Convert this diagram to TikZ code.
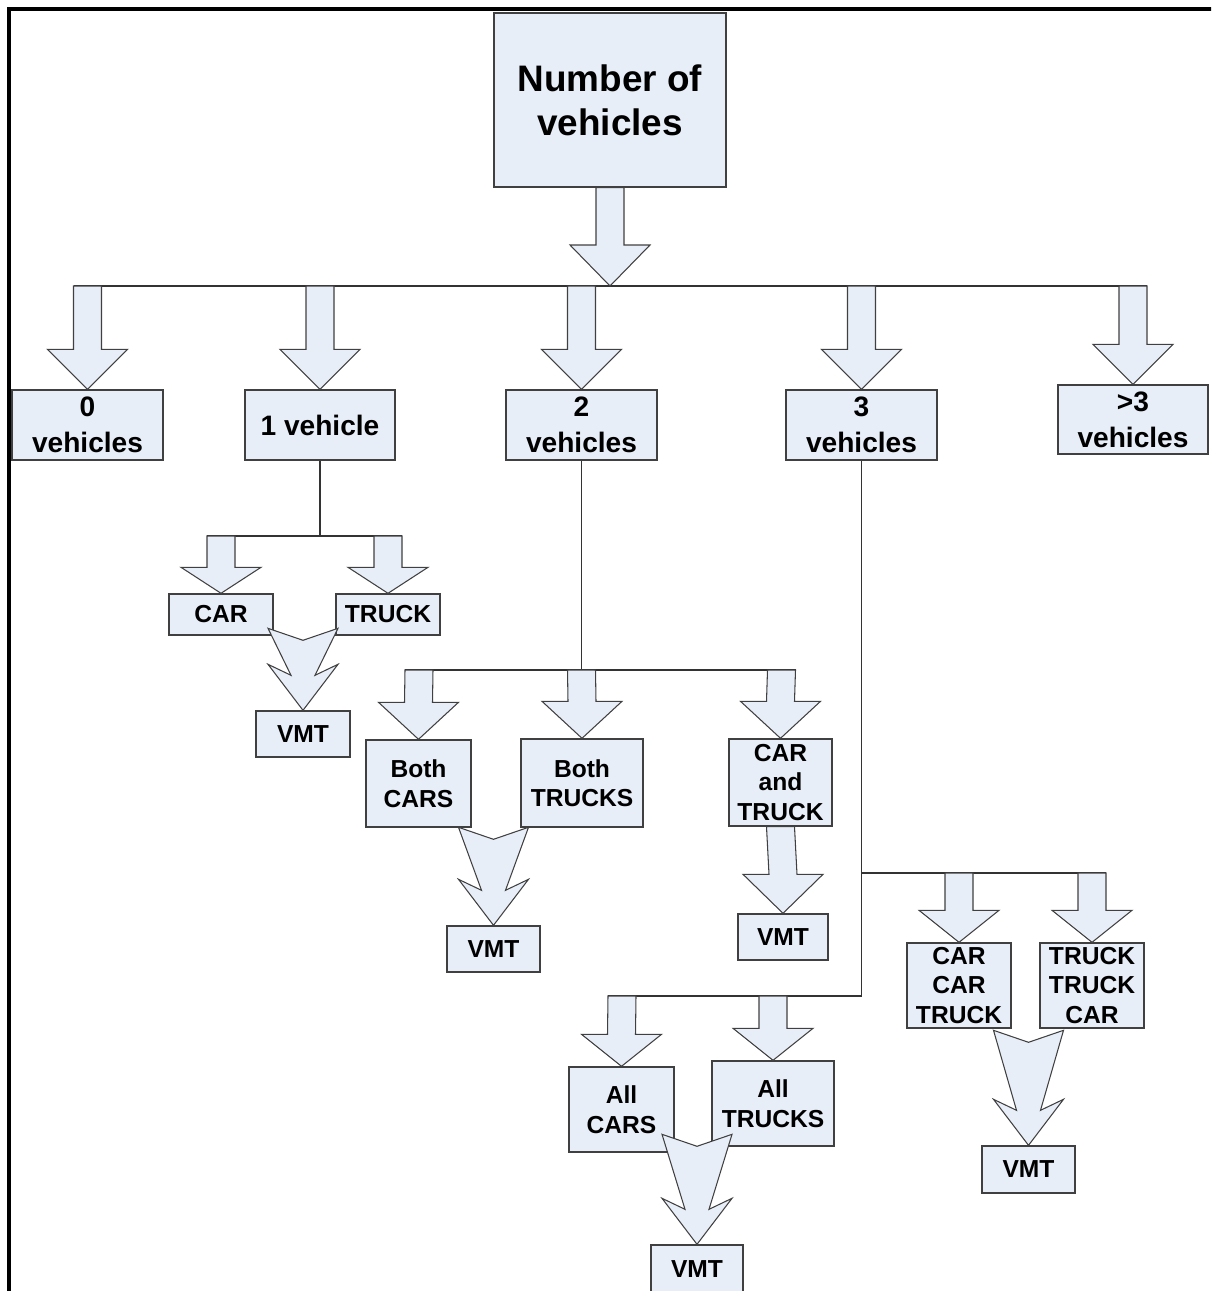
\documentclass[tikz,border=0pt]{standalone}
\usepackage{fontspec}
\setmainfont{Liberation Sans}
\usetikzlibrary{calc}
\definecolor{boxfill}{RGB}{232,238,248}
\definecolor{boxline}{RGB}{64,64,64}
% straight block arrow: top point, tip, head length
\newcommand{\blockarr}[3]{%
  \draw[blockarrow] ($(#1)+(-14,0)$) -- ($(#1)+(14,0)$) -- ($(#2)+(14,-#3)$)
    -- ($(#2)+(40,-#3)$) -- (#2) -- ($(#2)+(-40,-#3)$) -- ($(#2)+(-14,-#3)$) -- cycle;}
% merging block arrow: tip, height
\newcommand{\mergearr}[2]{%
  \draw[blockarrow] ($(#1)+(-35,-#2)$) -- ($(#1)+(0,{-#2+12})$) -- ($(#1)+(35,-#2)$)
    -- ($(#1)+(12,-35)$) -- ($(#1)+(35,-46)$) -- (#1) -- ($(#1)+(-35,-46)$)
    -- ($(#1)+(-12,-35)$) -- cycle;}

\begin{document}
\begin{tikzpicture}
    [x=0.02cm, y=-0.02cm,
     box/.style={draw=boxline, fill=boxfill, line width=0.8pt, align=center, inner sep=0pt},
     big/.style={box, font=\fontsize{21}{25}\selectfont\bfseries},
     mid/.style={box, font=\fontsize{16}{20.5}\selectfont\bfseries},
     small/.style={box, font=\fontsize{14}{16.8}\selectfont\bfseries},
     blockarrow/.style={draw=boxline, fill=boxfill, line width=0.6pt, line join=miter},
     wire/.style={draw=black!80, line width=0.9pt}]
    \useasboundingbox (0,0) rectangle (1211,1291);
    \clip (0,0) rectangle (1211,1291);

    % frame
    \draw[line width=2.2pt] (9,1300) -- (9,9) -- (1220,9);

    \node at (610,100) [big, minimum width=4.64cm, minimum height=3.48cm] (top) {Number of\\vehicles};

    \node at (87.5,425) [mid, minimum width=3.02cm, minimum height=1.4cm] (v0) {0\\vehicles};
    \node at (320,425) [mid, minimum width=3.0cm, minimum height=1.4cm] (v1) {1 vehicle};
    \node at (581.5,425) [mid, minimum width=3.02cm, minimum height=1.4cm] (v2) {2\\vehicles};
    \node at (861.5,425) [mid, minimum width=3.02cm, minimum height=1.4cm] (v3) {3\\vehicles};
    \node at (1133,419.5) [mid, minimum width=3.0cm, minimum height=1.38cm] (vmore) {>3\\vehicles};

    \node at (221,614.5) [small, minimum width=2.08cm, minimum height=0.82cm] (car) {CAR};
    \node at (388,614.5) [small, minimum width=2.08cm, minimum height=0.82cm] (truck) {TRUCK};
    \node at (303,734) [small, minimum width=1.88cm, minimum height=0.92cm] (vmta) {VMT};

    \node at (418.5,783.5) [small, minimum width=2.1cm, minimum height=1.74cm] (bothcars) {Both\\CARS};
    \node at (582,783) [small, minimum width=2.44cm, minimum height=1.76cm] (bothtrucks) {Both\\TRUCKS};
    \node at (780.5,782.5) [small, minimum width=2.06cm, minimum height=1.74cm] (carandtruck) {CAR\\and\\TRUCK};
    \node at (493.5,949) [small, minimum width=1.86cm, minimum height=0.92cm] (vmtb) {VMT};
    \node at (783,937) [small, minimum width=1.8cm, minimum height=0.92cm] (vmtc) {VMT};

    \node at (959,985.5) [small, minimum width=2.08cm, minimum height=1.7cm] (cct) {CAR\\CAR\\TRUCK};
    \node at (1092,985.5) [small, minimum width=2.08cm, minimum height=1.7cm] (ttc) {TRUCK\\TRUCK\\CAR};
    \node at (1028.5,1169.5) [small, minimum width=1.86cm, minimum height=0.94cm] (vmtd) {VMT};

    \node at (621.5,1109.5) [small, minimum width=2.1cm, minimum height=1.7cm] (allcars) {All\\CARS};
    \node at (773,1103.5) [small, minimum width=2.44cm, minimum height=1.7cm] (alltrucks) {All\\TRUCKS};
    \node at (697,1269) [small, minimum width=1.84cm, minimum height=0.96cm] (vmte) {VMT};

    % branch points
    \coordinate (hub) at (610,286);
    \coordinate (t0) at (87.5,286);
    \coordinate (t1) at (320,286);
    \coordinate (t2) at (581.5,286);
    \coordinate (t3) at (861.5,286);
    \coordinate (t4) at (1133,286);
    \coordinate (s1) at (221,536);
    \coordinate (s2) at (388,536);
    \coordinate (u1) at (419,670);
    \coordinate (u2) at (581.5,670);
    \coordinate (u3) at (781.5,670);
    \coordinate (w1) at (959,873);
    \coordinate (w2) at (1092,873);
    \coordinate (w3) at (622,996);
    \coordinate (w4) at (773,996);

    \draw[wire] ($(t0)+(-14,0)$) -- ($(t4)+(14,0)$);
    \draw[wire] (v1.south) -- (v1.south |- s1);
    \draw[wire] ($(s1)+(-14,0)$) -- ($(s2)+(14,0)$);
    \draw[wire] (v2.south) -- (u2);
    \draw[wire] ($(u1)+(-14,0)$) -- ($(u3)+(14,0)$);
    \draw[wire] (v3.south) -- (v3.south |- w3) -- ($(w3)+(-14,0)$);
    \draw[wire] (v3.south |- w1) -- ($(w2)+(14,0)$);

    \blockarr{top.south}{hub}{41}
    \blockarr{t0}{v0.north}{40}
    \blockarr{t1}{v1.north}{40}
    \blockarr{t2}{v2.north}{40}
    \blockarr{t3}{v3.north}{40}
    \blockarr{t4}{vmore.north}{40}

    \blockarr{s1}{car.north}{26}
    \blockarr{s2}{truck.north}{26}
    \mergearr{vmta.north}{82}

    \blockarr{u1}{bothcars.north}{37}
    \blockarr{u2}{bothtrucks.north}{37}
    \blockarr{u3}{carandtruck.north}{37}
    \mergearr{vmtb.north}{98}
    \blockarr{carandtruck.south}{vmtc.north}{39}

    \blockarr{w1}{cct.north}{32}
    \blockarr{w2}{ttc.north}{32}
    \mergearr{vmtd.north}{115}

    \blockarr{w3}{allcars.north}{32}
    \blockarr{w4}{alltrucks.north}{32}
    \mergearr{vmte.north}{110}
\end{tikzpicture}
\end{document}
